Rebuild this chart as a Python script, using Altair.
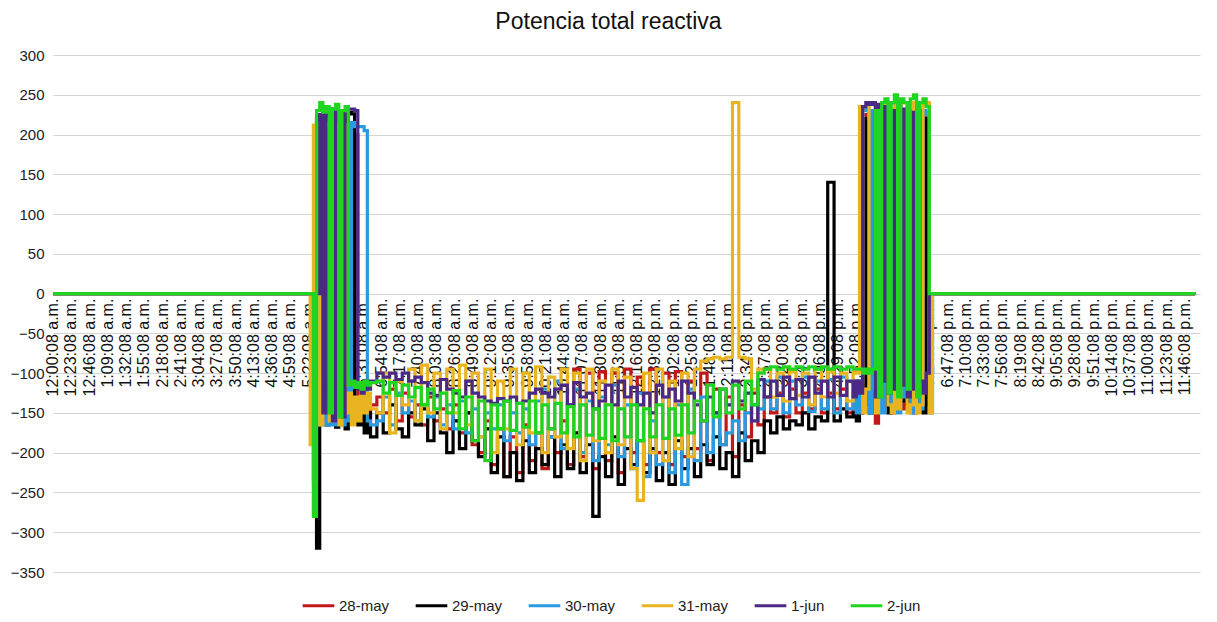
import altair as alt
import pandas as pd

titulo = "Potencia total reactiva"
series = ["28-may", "29-may", "30-may", "31-may", "1-jun", "2-jun"]
colores = ["#C01818", "#000000", "#2A9AE0", "#E8B520", "#4B2A86", "#22D422"]

etiquetas_hora = [
    "12:00:08 a.m.", "12:23:08 a.m.", "12:46:08 a.m.", "1:09:08 a.m.", "1:32:08 a.m.",
    "1:55:08 a.m.", "2:18:08 a.m.", "2:41:08 a.m.", "3:04:08 a.m.", "3:27:08 a.m.",
    "3:50:08 a.m.", "4:13:08 a.m.", "4:36:08 a.m.", "4:59:08 a.m.", "5:22:08 a.m.",
    "5:45:08 a.m.", "6:08:08 a.m.", "6:31:08 a.m.", "6:54:08 a.m.", "7:17:08 a.m.",
    "7:40:08 a.m.", "8:03:08 a.m.", "8:26:08 a.m.", "8:49:08 a.m.", "9:12:08 a.m.",
    "9:35:08 a.m.", "9:58:08 a.m.", "10:21:08 a.m.", "10:44:08 a.m.", "11:07:08 a.m.",
    "11:30:08 a.m.", "11:53:08 a.m.", "12:16:08 p.m.", "12:39:08 p.m.", "1:02:08 p.m.",
    "1:25:08 p.m.", "1:48:08 p.m.", "2:11:08 p.m.", "2:34:08 p.m.", "2:57:08 p.m.",
    "3:20:08 p.m.", "3:43:08 p.m.", "4:06:08 p.m.", "4:29:08 p.m.", "4:52:08 p.m.",
    "5:15:08 p.m.", "5:38:08 p.m.", "6:01:08 p.m.", "6:24:08 p.m.", "6:47:08 p.m.",
    "7:10:08 p.m.", "7:33:08 p.m.", "7:56:08 p.m.", "8:19:08 p.m.", "8:42:08 p.m.",
    "9:05:08 p.m.", "9:28:08 p.m.", "9:51:08 p.m.", "10:14:08 p.m.", "10:37:08 p.m.",
    "11:00:08 p.m.", "11:23:08 p.m.", "11:46:08 p.m.",
]

y_ticks = [-350, -300, -250, -200, -150, -100, -50, 0, 50, 100, 150, 200, 250, 300]

# minutes after midnight of each sample
min_inicio = [0, 320]
min_manana = [324, 328, 332, 336, 340, 344, 348, 352, 356, 360,
              364, 368, 372, 376, 380, 384, 388, 392, 396, 400]
min_dia = [408, 416, 424, 432, 440, 448, 456, 464, 472, 480,
           488, 496, 504, 512, 520, 528, 536, 544, 552, 560,
           568, 576, 584, 592, 600, 608, 616, 624, 632, 640,
           648, 656, 664, 672, 680, 688, 696, 704, 712, 720,
           728, 736, 744, 752, 760, 768, 776, 784, 792, 800,
           808, 816, 824, 832, 840, 848, 856, 864, 872, 880,
           888, 896, 904, 912, 920, 928, 936, 944, 952, 960,
           968, 976, 984, 992, 1000, 1008]
min_tarde = [1012, 1016, 1020, 1024, 1028, 1032, 1036, 1040, 1044, 1048,
             1052, 1056, 1060, 1064, 1068, 1072, 1076, 1080, 1084, 1088,
             1092, 1096, 1100, 1104, 1108]
min_fin = [1112, 1439]

cero_inicio = [0, 0]
cero_fin = [0, 0]

# 28-may
may28_manana = [0, 0, 220, 220, -160, 225, 225, -150, 220, 215,
                -160, 210, 205, 200, 200, -140, -150, -135, -150, -140]
may28_dia = [-130, -150, -120, -160, -125, -155,
             -140, -165, -130, -160, -145,
             -170, -140, -175, -150, -190,
             -200, -160, -215, -170, -230,
             -180, -225, -165, -210, -175,
             -220, -170, -200, -160, -215,
             -95, -205, -100, -220, -98,
             -210, -100, -225, -95, -200,
             -105, -215, -95, -200, -100,
             -215, -98, -205, -110, -195,
             -100, -210, -120, -190, -130,
             -205, -140, -180, -125, -165,
             -130, -150, -125, -155, -120,
             -150, -125, -145, -120, -150,
             -125, -145, -120, -150, -125]
may28_tarde = [-130, -150, -120, 225, 230, -140, -163, 228, 230, -140,
               225, -150, -130, 228, -145, 225, -140, 230, -150, 225,
               -135, 228, -140, 0, 0]

# 29-may
may29_manana = [0, 0, -320, 225, 230, -165, 232, 228, -168, 230,
                225, -170, 228, 226, -150, -165, -140, -175, -150, -180]
may29_dia = [-150, -175, -140, -170, -180, -150,
             -165, -145, -185, -150, -175,
             -200, -160, -195, -150, -185,
             -205, -170, -225, -180, -230,
             -200, -235, -185, -225, -195,
             -215, -180, -230, -190, -220,
             -175, -225, -190, -280, -205,
             -230, -180, -240, -195, -215,
             -185, -225, -195, -235, -200,
             -240, -185, -220, -195, -230,
             -190, -215, -180, -220, -200,
             -230, -175, -210, -185, -200,
             -160, -175, -155, -170, -160,
             -165, -150, -170, -155, -160,
             140, -160, -145, -155, -150]
may29_tarde = [-160, -150, -140, 220, -150, 225, -145, 230, -130, 215,
               -150, 218, -140, 215, -135, 212, -145, 218, -130, 215,
               -140, -150, 220, 0, 0]

# 30-may
may30_manana = [0, -235, 215, -165, 220, -165, 215, -165, 215, 210,
                -165, 212, -160, 215, 210, 210, 210, 205, -160, -165]
may30_dia = [-160, -130, -165, -125, -150, -135,
             -160, -140, -155, -130, -165,
             -140, -170, -135, -175, -145,
             -180, -150, -170, -140, -185,
             -150, -175, -145, -190, -135,
             -120, -180, -110, -195, -140,
             -120, -200, -135, -210, -130,
             -190, -115, -205, -140, -220,
             -125, -230, -160, -215, -130,
             -225, -140, -240, -120, -210,
             -130, -200, -150, -190, -175,
             -160, -185, -150, -140, -145,
             -110, -145, -105, -150, -110,
             -140, -105, -148, -110, -145,
             -108, -150, -105, -145, -110]
may30_tarde = [-150, -110, 230, 232, -150, 230, -120, 230, -150, 225,
               230, -140, 230, -150, 225, -130, 230, -150, 228, 232,
               -145, 230, 225, -150, 0]

# 31-may
may31_manana = [-190, 212, 215, -165, 215, 212, -160, 215, 210, -165,
                212, -150, -125, -165, -130, -160, -120, -150, -125, -145]
may31_dia = [-150, -100, -175, -110, -140, -95,
             -160, -90, -150, -100, -170,
             -95, -150, -90, -165, -100,
             -180, -95, -200, -110, -170,
             -95, -190, -100, -175, -92,
             -200, -105, -180, -95, -195,
             -100, -210, -95, -185, -110,
             -200, -95, -190, -105, -220,
             -260, -100, -200, -95, -210,
             -110, -195, -100, -205, -95,
             -85, -82, -80, -82, -80,
             240, -80, -82, -120, -95,
             -95, -130, -100, -135, -98,
             -128, -100, -140, -95, -130,
             -98, -125, -100, -135, -95]
may31_tarde = [-100, 235, -150, -120, 238, 240, -150, -110, 235, 240,
               -140, -150, 238, -145, 240, 240, -150, -140, 240, -150,
               -140, 238, 240, -150, 0]

# 1-jun
jun1_manana = [0, 0, 0, 225, -150, 228, 230, -160, 230, 230,
               -155, 230, 232, 232, 230, -120, -125, -110, -120, -110]
jun1_dia = [-100, -105, -100, -108, -100, -110,
            -105, -112, -125, -128, -108,
            -120, -125, -130, -110, -125,
            -130, -135, -138, -132, -135,
            -130, -138, -135, -125, -120,
            -125, -130, -120, -115, -140,
            -112, -130, -125, -145, -135,
            -115, -140, -110, -130, -118,
            -140, -125, -150, -115, -130,
            -120, -135, -110, -125, -140,
            -160, -130, -150, -120, -140,
            -110, -135, -125, -160, -108,
            -130, -110, -128, -105, -132,
            -108, -130, -105, -125, -110,
            -130, -105, -128, -110, -130]
jun1_tarde = [-110, -125, 235, 240, 238, 240, -130, 238, -110, 235,
              -125, 230, -120, 235, -115, 232, -130, 228, -120, 230,
              -110, -125, -100, 0, 0]

# 2-jun
jun2_manana = [0, -280, 230, 240, 228, 235, -150, 232, 238, -155,
               230, 235, -115, -110, -118, -112, -120, -110, -115, -112]
jun2_dia = [-110, -125, -112, -128, -115, -130,
            -118, -140, -120, -145, -125,
            -150, -122, -170, -130, -185,
            -135, -210, -140, -170, -135,
            -172, -138, -168, -135, -175,
            -140, -170, -138, -175, -142,
            -180, -140, -178, -145, -182,
            -140, -185, -145, -180, -140,
            -185, -145, -180, -140, -182,
            -145, -178, -140, -175, -135,
            -160, -115, -155, -120, -150,
            -115, -145, -110, -140, -100,
            -95, -92, -95, -92, -95,
            -92, -95, -92, -95, -92,
            -95, -92, -95, -92, -95]
jun2_tarde = [-95, -95, -100, -95, -100, -95, 230, -130, 240, 245,
              -125, 240, 250, -130, 245, 240, -120, 245, 250, -130,
              240, 245, 235, 0, 0]

partes = {
    "28-may": (may28_manana, may28_dia, may28_tarde),
    "29-may": (may29_manana, may29_dia, may29_tarde),
    "30-may": (may30_manana, may30_dia, may30_tarde),
    "31-may": (may31_manana, may31_dia, may31_tarde),
    "1-jun": (jun1_manana, jun1_dia, jun1_tarde),
    "2-jun": (jun2_manana, jun2_dia, jun2_tarde),
}

minutos = min_inicio + min_manana + min_dia + min_tarde + min_fin

filas = []
for s in series:
    a, b, c = partes[s]
    vals = cero_inicio + a + b + c + cero_fin
    for m, v in zip(minutos, vals):
        filas.append({"minuto": m, "valor": v, "serie": s})
df = pd.DataFrame(filas)


def a_minutos(txt):
    hora, sufijo = txt.split(" ")
    h, mi, _ = hora.split(":")
    h = int(h) % 12
    if sufijo.startswith("p"):
        h += 12
    return h * 60 + int(mi)


df_lab = pd.DataFrame({"etiqueta": etiquetas_hora,
                       "minuto": [a_minutos(t) for t in etiquetas_hora]})

x_scale = alt.Scale(domain=[0, 1445], nice=False, zero=False)
y_scale = alt.Scale(domain=[-350, 300], nice=False, zero=False)
y_axis = alt.Axis(values=y_ticks, grid=True, gridColor="#D4D4D4", gridWidth=1,
                  domain=False, ticks=False, labelPadding=9, labelFontSize=15,
                  labelColor="#222222", labelFont="Liberation Sans", title=None)

color_enc = alt.Color(
    "serie:N",
    scale=alt.Scale(domain=series, range=colores),
    sort=series,
    legend=alt.Legend(orient="none", legendX=248, legendY=533,
                      direction="horizontal", title=None,
                      symbolType="stroke", symbolStrokeWidth=3, symbolSize=1000,
                      labelFontSize=15, labelFont="Liberation Sans",
                      labelColor="#222222", columnPadding=19, labelOffset=3),
)

etiquetas = alt.Chart(df_lab).mark_text(
    angle=270, align="right", baseline="middle", dx=-5,
    fontSize=16, font="Liberation Sans", color="#111111",
).encode(
    x=alt.X("minuto:Q", scale=x_scale, axis=None),
    y=alt.Y(datum=0, scale=y_scale, axis=y_axis),
    text="etiqueta:N",
)

capas = []
for s in series:
    capas.append(
        alt.Chart(df).transform_filter(alt.datum.serie == s).mark_line(
            interpolate="step-after", strokeWidth=3.2
        ).encode(
            x=alt.X("minuto:Q", scale=x_scale, axis=None),
            y=alt.Y("valor:Q", scale=y_scale, axis=y_axis),
            color=color_enc,
        )
    )

chart = alt.layer(etiquetas, *capas).properties(
    width=1147,
    height=517,
    title=alt.TitleParams(titulo, fontSize=23, font="Liberation Sans",
                          fontWeight="normal", color="#111111",
                          anchor="middle", offset=14, dx=-18),
    padding={"left": 45, "top": 47, "right": 9, "bottom": 45},
    autosize=alt.AutoSizeParams(type="none"),
).configure_view(stroke=None)

chart.save("out.html", embed_options={"renderer": "svg", "actions": False})
